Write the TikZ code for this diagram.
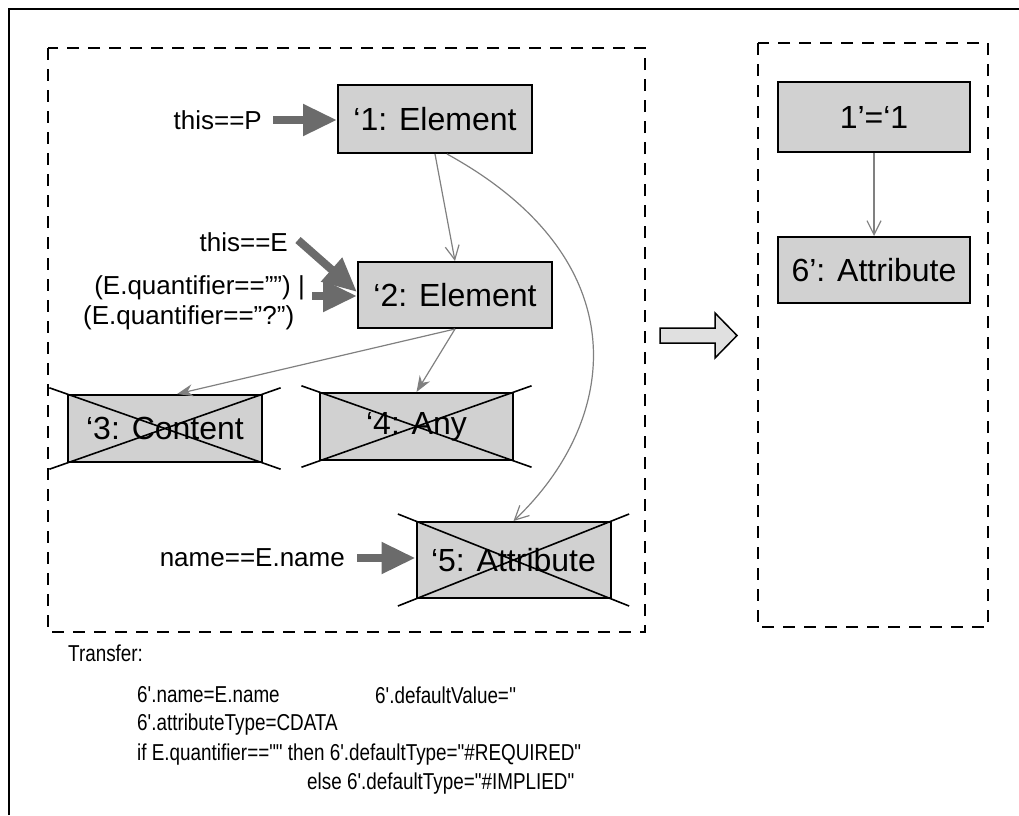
\documentclass[tikz,border=0pt]{standalone}
\usepackage{fontspec}
\setmainfont{Liberation Sans}
\newfontfamily\narrowfont[FakeStretch=0.82]{Liberation Sans}
\usetikzlibrary{arrows.meta,calc}
\definecolor{boxfill}{gray}{0.82}
\definecolor{thick}{gray}{0.42}
\definecolor{thin}{gray}{0.5}
\tikzset{
  objbox/.style={draw=black,line width=2pt,fill=boxfill,minimum width=194pt,minimum height=67pt,inner sep=0pt,font=\fontsize{32}{36}\selectfont},
  lbl/.style={inner sep=0pt,font=\fontsize{26}{30}\selectfont},
  note/.style={inner sep=0pt,anchor=west,font=\narrowfont\fontsize{23}{26}\selectfont},
  fatarrow/.style={draw=thick,line width=8pt,-{Triangle[length=34pt,width=30pt]}},
  link/.style={draw=thin,line width=1.2pt,-{Straight Barb[length=14pt,width=14pt,line width=1.2pt]}},
  sublink/.style={draw=thin,line width=1.2pt,-{Stealth[length=16pt,width=12pt]}},
  region/.style={draw=black,line width=2pt,dash pattern=on 12pt off 9pt},
  strike/.style={draw=black,line width=1.6pt}
}
\begin{document}
\begin{tikzpicture}[x=1pt,y=-1pt]
\useasboundingbox (0,0) rectangle (1019,815);
% outer frame (open at right and bottom)
\draw[line width=2.5pt] (9,815) -- (9,9) -- (1019,9);
% left-hand and right-hand pattern regions
\draw[region] (48,48) rectangle (645,632);
\draw[region] (758,43) rectangle (988,627);

% left-hand side objects
\node[objbox,minimum height=68pt] (e1) at (435,119) {`1: Element};
\node[objbox,minimum height=66pt] (e2) at (455,295) {`2: Element};
\node[objbox] (e3) at (165,428.5) {`3: Content};
\node[objbox,minimum width=193pt] (e4) at (416.5,426.5) {`4: Any};
\node[objbox,minimum height=76pt] (e5) at (513.5,560) {`5: Attribute};

% crossed-out (negative) objects
\foreach \n in {e3,e4,e5}{
  \draw[strike] ($(\n.north west)!-0.09!(\n.south east)$) -- ($(\n.south east)!-0.09!(\n.north west)$);
  \draw[strike] ($(\n.south west)!-0.09!(\n.north east)$) -- ($(\n.north east)!-0.09!(\n.south west)$);
}

% right-hand side objects
\node[objbox,minimum width=192pt,minimum height=70pt] (r1) at (874,117) {1'=`1};
\node[objbox,minimum width=192pt,minimum height=66pt] (r6) at (874,270) {6': Attribute};

% links
\draw[link] (e1.south) -- (e2.north);
\draw[link] ($(e1.south)+(12,0)$) .. controls (640,260) and (620,420) .. (e5.north);
\draw[sublink] (e2.south) -- ($(e3.north)+(12,0)$);
\draw[sublink] (e2.south) -- (e4.north);
\draw[link] (r1.south) -- (r6.north);

% conditions
\node[lbl,anchor=east] (cP) at (262,120) {this==P};
\node[lbl,anchor=east] (cE) at (288,242) {this==E};
\node[lbl,anchor=east] (cQ1) at (305,288) {(E.quantifier=="") |};
\node[lbl,anchor=west] (cQ2) at (83,318) {(E.quantifier=="?")};
\node[lbl,anchor=east] (cN) at (345,558) {name==E.name};

\coordinate (pP) at (273,120);
\coordinate (pE) at (298,240);
\coordinate (pQ) at (312,296);
\coordinate (pN) at (357,558);
\draw[fatarrow] (pP) -- (e1.west |- pP);
\draw[fatarrow] (pE) -- ($(e2.west)+(0,-3)$);
\draw[fatarrow] (pQ) -- (e2.west |- pQ);
\draw[fatarrow] (pN) -- (e5.west |- pN);

% transformation arrow
\draw[line width=1.5pt,fill=black!12]
  (660,328) -- (715,328) -- (715,313) -- (737,335.5) -- (715,358) -- (715,343) -- (660,343) -- cycle;

% transfer section
\node[note] (t0) at (68,653) {Transfer:};
\node[note] (t1) at (137,695) {6'.name=E.name};
\node[note] (t2) at (375,695) {6'.defaultValue=''};
\node[note] (t3) at (137,725) {6'.attributeType=CDATA};
\node[note] (t4) at (137,755) {if E.quantifier=="" then 6'.defaultType="\#REQUIRED"};
\node[note] (t5) at (307,784) {else 6'.defaultType="\#IMPLIED"};
\end{tikzpicture}
\end{document}
